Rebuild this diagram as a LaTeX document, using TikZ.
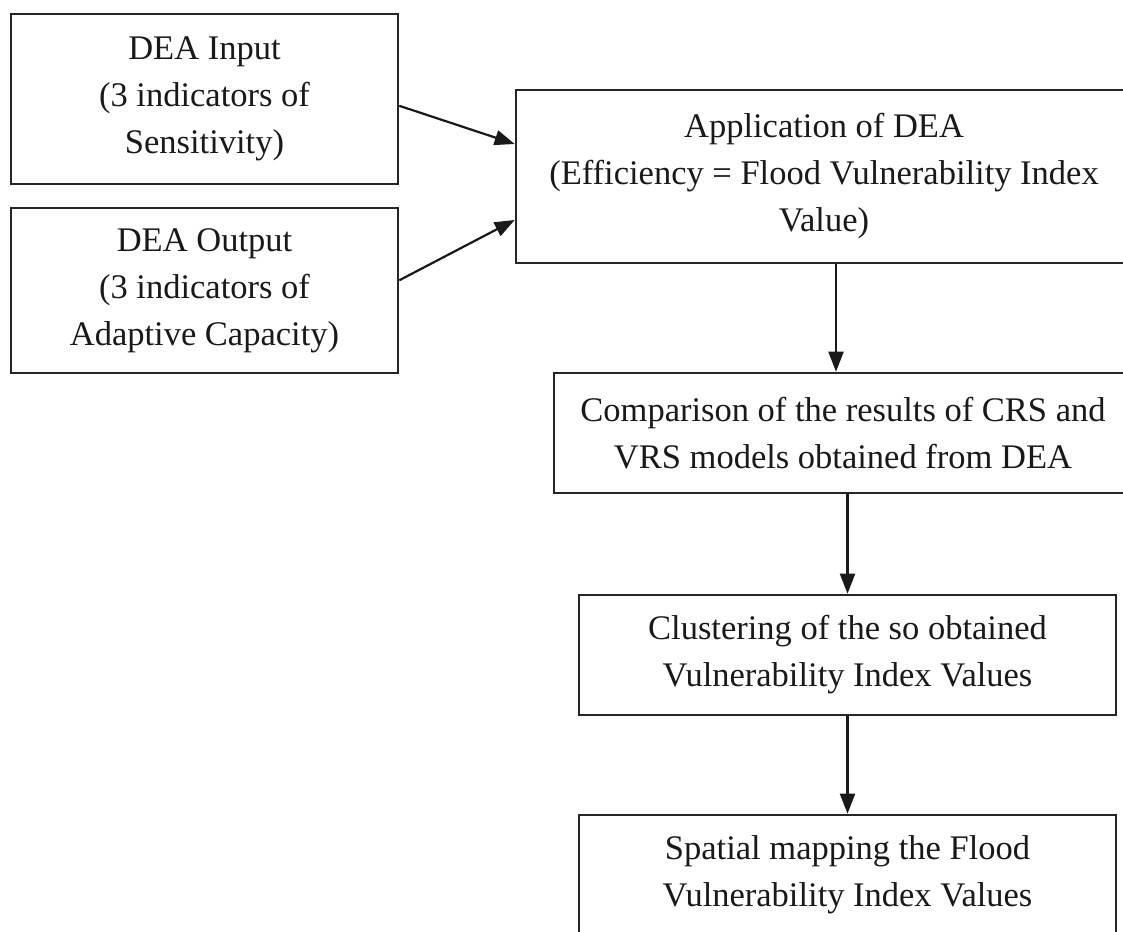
\documentclass[tikz,border=0pt]{standalone}
\usepackage{fontspec}
\setmainfont{Liberation Serif}
\usetikzlibrary{arrows.meta}

\begin{document}
\begin{tikzpicture}[x=1pt, y=-1pt,
    stage/.style={rectangle, draw=black!85, line width=2.6pt, align=center, inner sep=0pt,
        text=black!90, font=\fontsize{34.5}{47}\selectfont},
    flow/.style={-{Triangle[length=20pt, width=15pt]}, line width=2.2pt, draw=black!90}
]
\useasboundingbox (0,0) rectangle (1123,931);
\clip (0,0) rectangle (1123,931);

% left column: DEA inputs and outputs
\node[stage, minimum width=387pt, minimum height=170pt] (input) at (204.5, 99) {DEA Input\\(3 indicators of\\Sensitivity)};
\node[stage, minimum width=387pt, minimum height=165pt] (output) at (204.5, 290.5) {DEA Output\\(3 indicators of\\Adaptive Capacity)};

% right column: processing chain
\node[stage, minimum width=616pt, minimum height=173pt] (apply) at (824, 176.5) {Application of DEA\\(Efficiency = Flood Vulnerability Index\\Value)};
\node[stage, minimum width=578pt, minimum height=120pt] (compare) at (843, 433) {Comparison of the results of CRS and\\VRS models obtained from DEA};
\node[stage, minimum width=537pt, minimum height=120pt] (cluster) at (847.5, 655) {Clustering of the so obtained\\Vulnerability Index Values};
\node[stage, minimum width=537pt, minimum height=120pt] (mapping) at (847.5, 875) {Spatial mapping the Flood\\Vulnerability Index Values};

\draw[flow] (input.-2.4) -- (apply.174);
\draw[flow] (output.3.1) -- (apply.188.6);
\draw[flow] ([xshift=12pt]apply.south) -- ([xshift=12pt]apply.south |- compare.north);
\draw[flow] (compare.south -| cluster) -- (cluster.north);
\draw[flow] (cluster.south) -- (mapping.north);

\end{tikzpicture}
\end{document}
